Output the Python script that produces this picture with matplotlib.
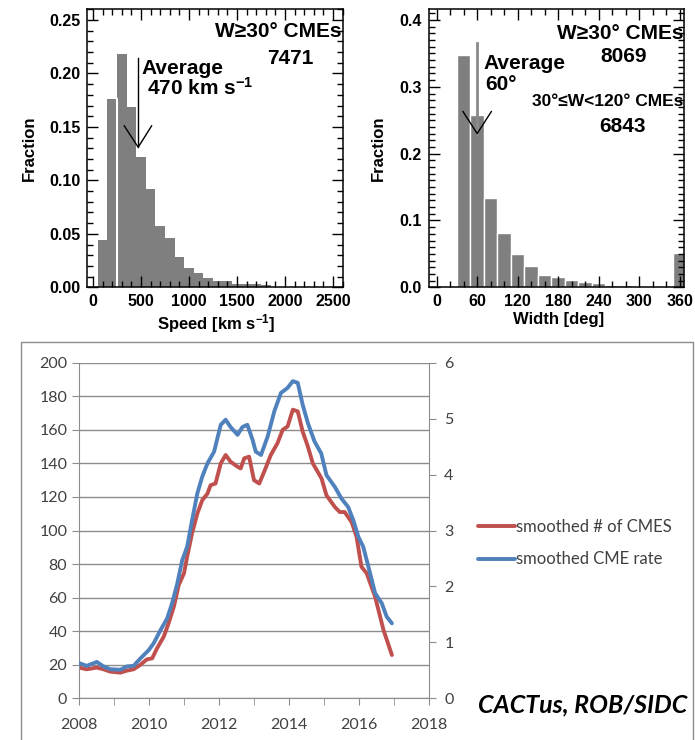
#Gráfica de CMEs: histogramas de velocidad y anchura, y tasa suavizada
import matplotlib
matplotlib.use("Agg")
from matplotlib import pyplot as plt
from matplotlib.ticker import MultipleLocator
from matplotlib.patches import Rectangle

plt.rcParams['mathtext.fontset'] = 'custom'
plt.rcParams['mathtext.rm'] = 'Liberation Sans:bold'
plt.rcParams['mathtext.default'] = 'rm'

#Histograma de velocidad (bins de 100 km/s)
speed_edges = [50, 150, 250, 350, 450, 550, 650, 750, 850, 950, 1050, 1150, 1250, 1350, 1450, 1550, 1650, 1750, 1850]
speed_frac = [0.044, 0.176, 0.218, 0.169, 0.122, 0.092, 0.057, 0.046, 0.028, 0.018, 0.013, 0.009, 0.006, 0.006, 0.003, 0.003, 0.003, 0.002]
speed_mean = 470
speed_total = 7471

#Histograma de anchura (bins de 20 grados)
width_edges = [30, 50, 70, 90, 110, 130, 150, 170, 190, 210, 230, 250, 270, 350]
width_frac = [0.348, 0.258, 0.134, 0.081, 0.050, 0.032, 0.019, 0.015, 0.011, 0.0075, 0.006, 0.0035, 0.0035, 0.051]
width_mean = 60
width_total = 8069
width_total_narrow = 6843

#Curvas suavizadas
red_years = [2008.0, 2008.22, 2008.51, 2008.70, 2008.89, 2009.18, 2009.37, 2009.56, 2009.75, 2009.94,
             2010.09, 2010.23, 2010.42, 2010.56, 2010.71, 2010.85, 2011.0, 2011.09, 2011.23, 2011.38,
             2011.52, 2011.67, 2011.76, 2011.90, 2012.05, 2012.19, 2012.33, 2012.53, 2012.62, 2012.72,
             2012.86, 2013.0, 2013.15, 2013.29, 2013.48, 2013.67, 2013.82, 2013.96, 2014.11, 2014.25,
             2014.39, 2014.54, 2014.68, 2014.82, 2014.93, 2015.07, 2015.31, 2015.45, 2015.59, 2015.79,
             2015.93, 2016.07, 2016.22, 2016.46, 2016.70, 2016.94]
red_cmes = [18.3, 17.3, 18.3, 17.3, 15.9, 15.3, 16.5, 17.3, 19.9, 23.2,
            23.8, 29.8, 36.7, 44.7, 54.6, 67.5, 74.5, 84.4, 98.3, 110,
            118, 122, 127, 128, 140, 145, 141, 138, 137, 143,
            144, 130, 128, 135, 145, 152, 160, 162, 172, 171,
            159, 150, 140, 135, 131, 121, 114, 111, 111, 105,
            96.3, 78.4, 74.5, 60.5, 40.7, 25.8]

blue_years = [2008.0, 2008.22, 2008.51, 2008.70, 2008.89, 2009.18, 2009.37, 2009.56, 2009.75, 2009.99,
              2010.13, 2010.33, 2010.52, 2010.66, 2010.80, 2010.95, 2011.09, 2011.23, 2011.38, 2011.52,
              2011.67, 2011.86, 2012.05, 2012.19, 2012.33, 2012.53, 2012.67, 2012.81, 2012.96, 2013.05,
              2013.20, 2013.39, 2013.58, 2013.77, 2013.96, 2014.11, 2014.25, 2014.39, 2014.54, 2014.73,
              2014.92, 2015.07, 2015.31, 2015.50, 2015.69, 2015.84, 2015.98, 2016.12, 2016.27, 2016.46,
              2016.65, 2016.79, 2016.94]
blue_rate = [0.63, 0.58, 0.65, 0.57, 0.52, 0.51, 0.57, 0.58, 0.71, 0.86,
             0.98, 1.22, 1.43, 1.70, 2.03, 2.47, 2.71, 3.18, 3.66, 3.96,
             4.20, 4.41, 4.89, 4.98, 4.85, 4.71, 4.85, 4.89, 4.62, 4.41,
             4.35, 4.68, 5.13, 5.46, 5.55, 5.67, 5.64, 5.25, 4.92, 4.59,
             4.38, 3.99, 3.78, 3.57, 3.42, 3.18, 2.89, 2.71, 2.35, 1.88,
             1.70, 1.46, 1.34]

W, H = 695, 740
fig = plt.figure(figsize=(W / 100, H / 100), dpi=100)

bold = dict(family='Liberation Sans', fontweight='bold')


def panel_estilo(ax):
    for s in ax.spines.values():
        s.set_linewidth(1.1)
    ax.tick_params(which='both', direction='in', top=True, right=True, width=1.0,
                   labelsize=11.5, pad=5)
    ax.tick_params(which='major', length=8)
    ax.tick_params(which='minor', length=4)
    for lab in ax.get_xticklabels() + ax.get_yticklabels():
        lab.set_fontfamily('Liberation Sans')
        lab.set_fontweight('bold')


#Panel de velocidad
ax1 = fig.add_axes([87.3 / W, 1 - 287.3 / H, 256 / W, 278 / H])
ax1.bar(speed_edges[:-1], speed_frac, width=100, align='edge', color='#7f7f7f', linewidth=0)
ax1.plot([speed_edges[2], speed_edges[2]], [0, speed_frac[1]], color='white', lw=1.5)
ax1.set_xlim(-60, 2607)
ax1.set_ylim(0, 0.26)
ax1.xaxis.set_major_locator(MultipleLocator(500))
ax1.xaxis.set_minor_locator(MultipleLocator(100))
ax1.yaxis.set_major_locator(MultipleLocator(0.05))
ax1.yaxis.set_minor_locator(MultipleLocator(0.01))
ax1.set_yticks([0, 0.05, 0.10, 0.15, 0.20, 0.25], ['0.00', '0.05', '0.10', '0.15', '0.20', '0.25'])
panel_estilo(ax1)
ax1.set_ylabel('Fraction', fontsize=12, **bold)
ax1.yaxis.set_label_coords(-0.197, 0.5)
ax1.set_xlabel('Speed [km s$^{-1}$]', fontsize=12, **bold)
ax1.xaxis.set_label_coords(0.505, -0.09)
ax1.plot([speed_mean, speed_mean], [0.2145, 0.131], color='black', lw=1)
ax1.plot([speed_mean - 145, speed_mean, speed_mean + 140], [0.151, 0.131, 0.151], color='black', lw=1)
ax1.text(0.994, 0.919, 'W≥30° CMEs', transform=ax1.transAxes, ha='right', va='center', fontsize=15, **bold)
ax1.text(0.792, 0.824, str(speed_total), transform=ax1.transAxes, ha='center', va='center', fontsize=15, **bold)
ax1.text(0.2125, 0.788, 'Average', transform=ax1.transAxes, ha='left', va='center', fontsize=15, **bold)
ax1.text(0.232, 0.716, '%d km s$^{-1}$' % speed_mean, transform=ax1.transAxes, ha='left', va='center',
         fontsize=15, **bold)

#Panel de anchura
ax2 = fig.add_axes([429 / W, 1 - 287.3 / H, 255.3 / W, 278 / H])
ax2.bar(width_edges, width_frac, width=20, align='edge', color='#7f7f7f', edgecolor='white', linewidth=1)
ax2.set_xlim(-11.4, 367)
ax2.set_ylim(0, 0.416)
ax2.xaxis.set_major_locator(MultipleLocator(60))
ax2.xaxis.set_minor_locator(MultipleLocator(20))
ax2.yaxis.set_major_locator(MultipleLocator(0.1))
ax2.yaxis.set_minor_locator(MultipleLocator(0.01))
ax2.set_yticks([0, 0.1, 0.2, 0.3, 0.4], ['0.0', '0.1', '0.2', '0.3', '0.4'])
panel_estilo(ax2)
ax2.set_ylabel('Fraction', fontsize=12, **bold)
ax2.yaxis.set_label_coords(-0.169, 0.5)
ax2.set_xlabel('Width [deg]', fontsize=12, **bold)
ax2.xaxis.set_label_coords(0.506, -0.09)
ax2.plot([width_mean, width_mean], [0.365, 0.230], color='#8a8a8a', lw=2)
ax2.plot([width_mean - 21, width_mean, width_mean + 21], [0.263, 0.230, 0.263], color='black', lw=1)
ax2.text(0.997, 0.914, 'W≥30° CMEs', transform=ax2.transAxes, ha='right', va='center', fontsize=15, **bold)
ax2.text(0.763, 0.830, str(width_total), transform=ax2.transAxes, ha='center', va='center', fontsize=15, **bold)
ax2.text(0.213, 0.806, 'Average', transform=ax2.transAxes, ha='left', va='center', fontsize=15, **bold)
ax2.text(0.219, 0.728, '%d°' % width_mean, transform=ax2.transAxes, ha='left', va='center', fontsize=15, **bold)
ax2.text(0.997, 0.668, '30°≤W<120° CMEs', transform=ax2.transAxes, ha='right', va='center', fontsize=12.5, **bold)
ax2.text(0.758, 0.578, str(width_total_narrow), transform=ax2.transAxes, ha='center', va='center',
         fontsize=15, **bold)

#Panel inferior: marco
fig.add_artist(Rectangle((20.7 / W, -0.02), (693 - 20.7) / W, (740 - 342) / H + 0.02,
                         transform=fig.transFigure, fill=False, ec='#8c8c8c', lw=1))

gris = '#8c8c8c'
texto = '#404040'
ax3 = fig.add_axes([79 / W, 1 - 698.3 / H, 350 / W, (698.3 - 362.7) / H])
ax3.set_xlim(2008, 2018)
ax3.set_ylim(0, 200)
ax3.yaxis.set_major_locator(MultipleLocator(20))
ax3.xaxis.set_major_locator(MultipleLocator(2))
ax3.xaxis.set_minor_locator(MultipleLocator(1))
ax3.grid(axis='y', color=gris, lw=1)
ax3.set_axisbelow(True)
for s in ['top', 'right']:
    ax3.spines[s].set_visible(False)
for s in ['left', 'bottom']:
    ax3.spines[s].set_color(gris)
ax3.tick_params(which='both', direction='out', color=gris, length=5, labelcolor=texto, labelsize=11.5)
ax3.tick_params(axis='x', which='major', pad=9)
for lab in ax3.get_xticklabels() + ax3.get_yticklabels():
    lab.set_fontfamily('Lato')

l1, = ax3.plot(red_years, red_cmes, color='#c0504d', lw=2.8, solid_capstyle='round',
               label='smoothed # of CMES')

ax4 = ax3.twinx()
ax4.set_ylim(0, 6)
ax4.yaxis.set_major_locator(MultipleLocator(1))
for s in ['top', 'left', 'bottom']:
    ax4.spines[s].set_visible(False)
ax4.spines['right'].set_color(gris)
ax4.tick_params(direction='out', color=gris, length=5, labelcolor=texto, labelsize=11.5, pad=6)
for lab in ax4.get_yticklabels():
    lab.set_fontfamily('Lato')
l2, = ax4.plot(blue_years, blue_rate, color='#4f81bd', lw=2.8, solid_capstyle='round',
               label='smoothed CME rate')

fig.legend(handles=[l1, l2], loc='center left', bbox_to_anchor=(463 / W, 1 - 543 / H),
           frameon=False, prop={'family': 'Lato', 'size': 12}, handlelength=2.2,
           handletextpad=0.1, labelspacing=1.0, labelcolor=texto)

fig.text(478 / W, 1 - 712 / H, 'CACTus, ROB/SIDC', family='Lato', fontweight='bold', style='italic',
         fontsize=18, ha='left', va='baseline', color='black')

plt.savefig('out.png', dpi=100)
